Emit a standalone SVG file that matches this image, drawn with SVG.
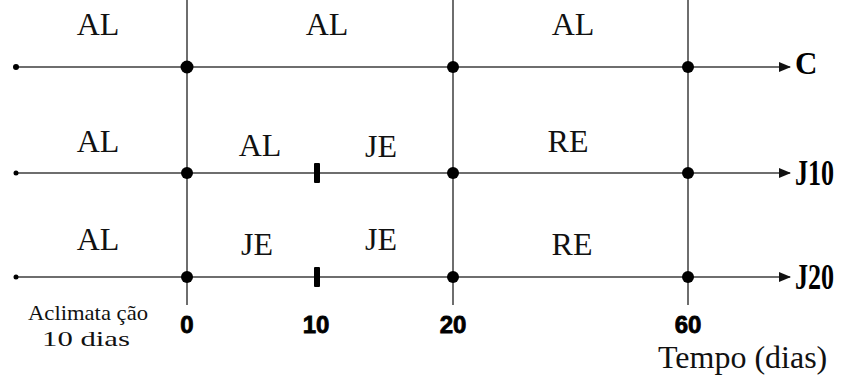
<svg xmlns="http://www.w3.org/2000/svg" width="843" height="383" viewBox="0 0 843 383">
<style>
.ax{stroke:#6e6e6e;stroke-width:2;fill:none}
.dot{fill:#000}
.lab{font-family:"Liberation Serif",serif;font-size:32px;fill:#111;text-anchor:middle}
.row{font-family:"Liberation Serif",serif;font-size:29px;font-weight:bold;fill:#000}
.num{font-family:"Liberation Sans",sans-serif;font-size:24px;font-weight:bold;fill:#000;stroke:#000;stroke-width:0.8;text-anchor:middle}
.small{font-family:"Liberation Serif",serif;font-size:22px;fill:#111}
</style>
<defs>
<marker id="arr" markerWidth="12" markerHeight="10" refX="11" refY="5" orient="auto" markerUnits="userSpaceOnUse">
<path d="M0,0 L12,5 L0,10 Z" fill="#111"/>
</marker>
</defs>
<g id="connectors">
<line class="ax" x1="187" y1="0" x2="187" y2="305"/>
<line class="ax" x1="453" y1="0" x2="453" y2="305"/>
<line class="ax" x1="688" y1="0" x2="688" y2="305"/>
<line class="ax" x1="16" y1="67" x2="790" y2="67" marker-end="url(#arr)"/>
<line class="ax" x1="16" y1="173" x2="790" y2="173" marker-end="url(#arr)"/>
<line class="ax" x1="16" y1="277" x2="790" y2="277" marker-end="url(#arr)"/>
</g>
<g id="dots">
<circle class="dot" cx="16" cy="67" r="3"/>
<circle class="dot" cx="187" cy="67" r="6.5"/>
<circle class="dot" cx="453" cy="67" r="6"/>
<circle class="dot" cx="688" cy="67" r="6"/>
<circle class="dot" cx="16" cy="173" r="2.5"/>
<circle class="dot" cx="187" cy="173" r="6"/>
<rect class="dot" x="314" y="163" width="6" height="20" rx="1"/>
<circle class="dot" cx="453" cy="173" r="6"/>
<circle class="dot" cx="688" cy="173" r="6"/>
<circle class="dot" cx="16" cy="277" r="2.5"/>
<circle class="dot" cx="187" cy="277" r="6"/>
<rect class="dot" x="314" y="267" width="6" height="20" rx="1"/>
<circle class="dot" cx="453" cy="277" r="6"/>
<circle class="dot" cx="688" cy="277" r="6"/>
</g>
<g id="row-C">
<text class="lab" x="98" y="35">AL</text>
<text class="lab" x="327" y="35">AL</text>
<text class="lab" x="573" y="35">AL</text>
<text class="row" x="795" y="74" style="font-size:31px">C</text>
</g>
<g id="row-J10">
<text class="lab" x="98" y="152">AL</text>
<text class="lab" x="260" y="156">AL</text>
<text class="lab" x="381" y="157">JE</text>
<text class="lab" x="568" y="152">RE</text>
<text class="row" x="0" y="0" transform="translate(795,185) scale(0.9,1.25)">J10</text>
</g>
<g id="row-J20">
<text class="lab" x="98" y="250">AL</text>
<text class="lab" x="257" y="255">JE</text>
<text class="lab" x="381" y="250">JE</text>
<text class="lab" x="572" y="255">RE</text>
<text class="row" x="0" y="0" transform="translate(795,289) scale(0.9,1.25)">J20</text>
</g>
<g id="axis-labels">
<text class="small" x="28" y="320" textLength="120" lengthAdjust="spacingAndGlyphs">Aclimata ção</text>
<text class="small" x="42" y="346" textLength="88" lengthAdjust="spacingAndGlyphs">10 dias</text>
<text class="num" x="187" y="333">0</text>
<text class="num" x="316" y="333">10</text>
<text class="num" x="453" y="333">20</text>
<text class="num" x="688" y="333">60</text>
<text class="lab" x="658" y="368" style="font-size:32px;text-anchor:start">Tempo (dias)</text>
</g>
</svg>
